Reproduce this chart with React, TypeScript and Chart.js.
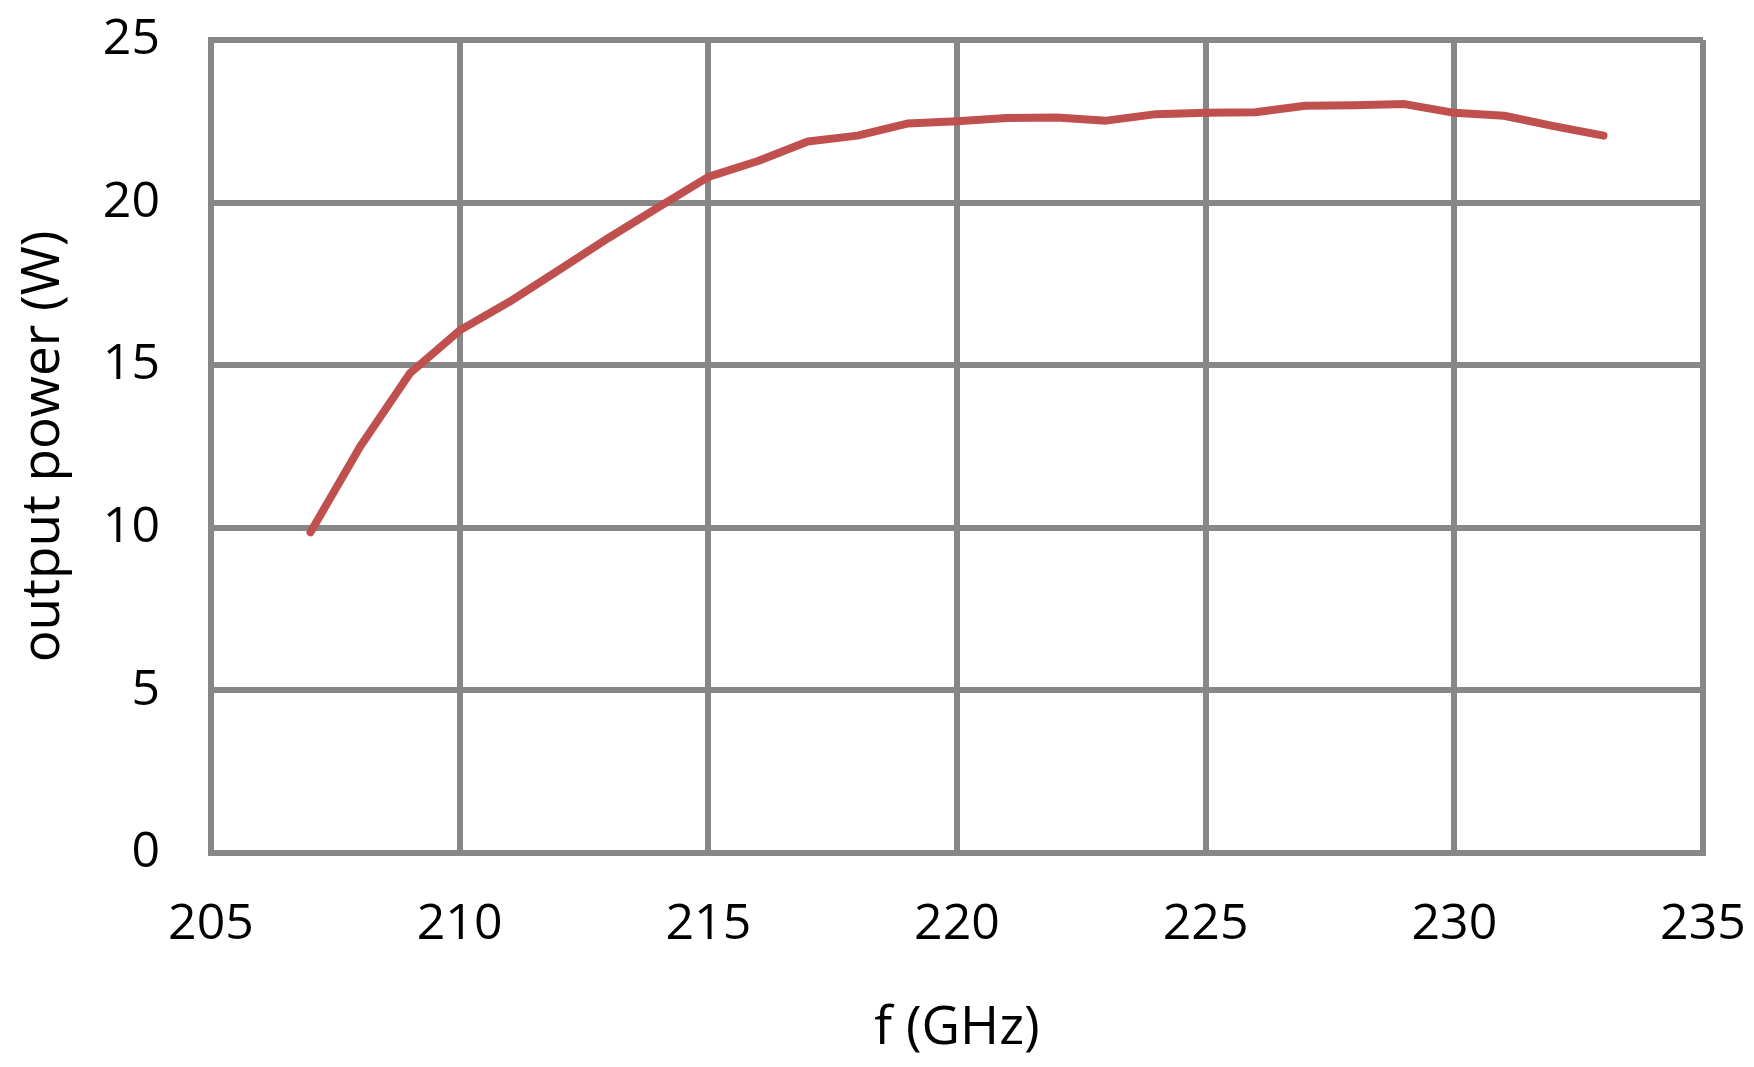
import React, { useEffect, useRef } from "react";
import { Chart, registerables } from "chart.js";

Chart.register(...registerables);

const frequencies = [207, 208, 209, 210, 211, 212, 213, 214, 215, 216, 217, 218, 219, 220, 221, 222, 223, 224, 225, 226, 227, 228, 229, 230, 231, 232, 233];
const outputPower = [9.86, 12.5, 14.75, 16.07, 16.95, 17.93, 18.92, 19.86, 20.79, 21.28, 21.88, 22.06, 22.43, 22.5, 22.6, 22.62, 22.52, 22.72, 22.76, 22.78, 22.98, 22.99, 23.03, 22.76, 22.67, 22.35, 22.06];
const xTitle = "f (GHz)";
const yTitle = "output power (W)";

const GRID = "#878787";
const FONT = "'Open Sans', 'Noto Sans', sans-serif";

export default function App() {
  const ref = useRef<HTMLCanvasElement | null>(null);
  useEffect(() => {
    if (!ref.current) return;
    const data = frequencies.map((f, i) => ({ x: f, y: outputPower[i] }));
    const chart = new Chart(ref.current, {
      type: "line",
      data: {
        datasets: [
          {
            data,
            borderColor: "#C0504D",
            borderWidth: 8,
            pointRadius: 0,
            tension: 0,
            borderCapStyle: "round",
            borderJoinStyle: "round",
            fill: false,
          },
        ],
      },
      options: {
        animation: false,
        responsive: false,
        maintainAspectRatio: false,
        layout: { padding: { top: 40, right: 51, left: 0, bottom: 0 } },
        plugins: { legend: { display: false }, tooltip: { enabled: false } },
        scales: {
          x: {
            type: "linear",
            min: 205,
            max: 235,
            ticks: { stepSize: 5, padding: 42, color: "#000", font: { family: FONT, size: 50 } },
            grid: { color: GRID, lineWidth: 6, drawTicks: false },
            border: { display: true, color: GRID, width: 6 },
            title: { display: true, text: xTitle, color: "#000", font: { family: FONT, size: 53 }, padding: { top: 0, bottom: 6 } },
            afterFit: (s: any) => { s.height = 214; s.paddingLeft = 0; s.paddingRight = 0; },
          },
          y: {
            type: "linear",
            min: 0,
            max: 25,
            ticks: { stepSize: 5, padding: 51, color: "#000", font: { family: FONT, size: 50 } },
            grid: { color: GRID, lineWidth: 6, drawTicks: false },
            border: { display: true, color: GRID, width: 6 },
            title: { display: true, text: yTitle, color: "#000", font: { family: FONT, size: 53 }, padding: { top: 12, bottom: 0 } },
            afterFit: (s: any) => { s.width = 211; s.paddingTop = 0; s.paddingBottom = 0; },
          },
        },
      },
    });
    return () => chart.destroy();
  }, []);
  return (
    <div style={{ position: "fixed", left: 0, top: 0, width: 1754, height: 1067, background: "#fff" }}>
      <canvas ref={ref} width={1754} height={1067} style={{ display: "block", width: 1754, height: 1067 }} />
    </div>
  );
}
